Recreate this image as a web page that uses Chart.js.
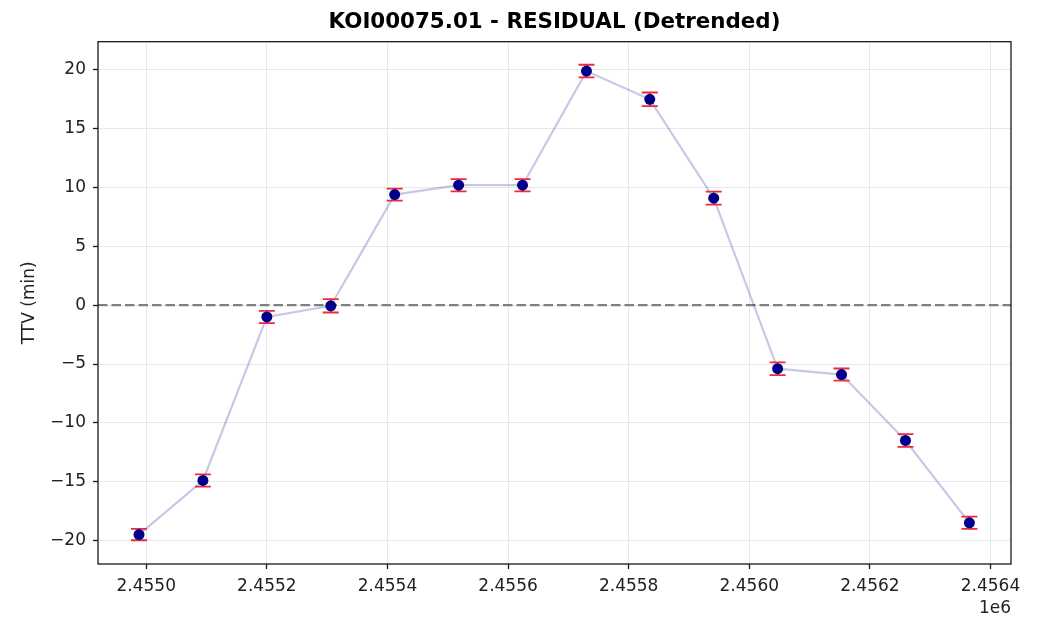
<!DOCTYPE html>
<html>
<head>
<meta charset="utf-8">
<title>KOI00075.01 - RESIDUAL (Detrended)</title>
<script src="https://cdn.jsdelivr.net/npm/chart.js@4.4.1/dist/chart.umd.min.js"></script>
<style>
  html, body { margin: 0; padding: 0; background: #ffffff; }
  canvas { display: block; }
</style>
</head>
<body>
<canvas id="ttv" width="1039" height="617"></canvas>
<script>
// Transit epochs (BJD) and detrended timing residuals in minutes
const epochs = [2454988, 2455094, 2455200, 2455306, 2455412, 2455518, 2455624,
                2455730, 2455835, 2455941, 2456047, 2456153, 2456259, 2456365];
const ttvMinutes = [-19.5, -14.9, -1.0, -0.05, 9.4, 10.2, 10.2,
                    19.9, 17.5, 9.1, -5.4, -5.9, -11.5, -18.5];
const ttvErrors = [0.48, 0.52, 0.52, 0.57, 0.51, 0.52, 0.52,
                   0.54, 0.58, 0.55, 0.54, 0.52, 0.54, 0.52];

// Axis ticks
const xTickValues = [2455000, 2455200, 2455400, 2455600, 2455800, 2456000, 2456200, 2456400];
const xTickLabels = ['2.4550', '2.4552', '2.4554', '2.4556', '2.4558', '2.4560', '2.4562', '2.4564'];
const yTickValues = [-20, -15, -10, -5, 0, 5, 10, 15, 20];
const yTickLabels = ['\u221220', '\u221215', '\u221210', '\u22125', '0', '5', '10', '15', '20'];

const points = epochs.map((x, i) => ({ x: x, y: ttvMinutes[i] }));

Chart.defaults.font.family = "'DejaVu Sans', 'Liberation Sans', sans-serif";
Chart.defaults.color = '#222222';

// Dashed zero reference line, error bars, and the axes frame
const ttvDecorations = {
  id: 'ttvDecorations',
  beforeDatasetsDraw(chart) {
    const { ctx, chartArea, scales } = chart;
    const y0 = scales.y.getPixelForValue(0);
    ctx.save();
    ctx.beginPath();
    ctx.rect(chartArea.left, chartArea.top, chartArea.right - chartArea.left, chartArea.bottom - chartArea.top);
    ctx.clip();
    ctx.strokeStyle = '#7f7f7f';
    ctx.lineWidth = 2.2;
    ctx.setLineDash([9.5, 4]);
    ctx.beginPath();
    ctx.moveTo(chartArea.left, y0);
    ctx.lineTo(chartArea.right, y0);
    ctx.stroke();
    ctx.restore();
  },
  afterDatasetDraw(chart, args) {
    if (chart.data.datasets[args.index].label !== 'trend') return;
    const { ctx, scales } = chart;
    const cap = 8;
    ctx.save();
    ctx.strokeStyle = '#ee2a35';
    ctx.lineWidth = 1.8;
    epochs.forEach((x, i) => {
      const px = scales.x.getPixelForValue(x);
      const top = scales.y.getPixelForValue(ttvMinutes[i] + ttvErrors[i]);
      const bot = scales.y.getPixelForValue(ttvMinutes[i] - ttvErrors[i]);
      ctx.beginPath();
      ctx.moveTo(px, top); ctx.lineTo(px, bot);
      ctx.moveTo(px - cap, top); ctx.lineTo(px + cap, top);
      ctx.moveTo(px - cap, bot); ctx.lineTo(px + cap, bot);
      ctx.stroke();
    });
    ctx.restore();
  },
  afterDraw(chart) {
    const { ctx, chartArea } = chart;
    ctx.save();
    ctx.strokeStyle = '#1a1a1a';
    ctx.lineWidth = 1.3;
    ctx.strokeRect(chartArea.left, chartArea.top, chartArea.right - chartArea.left, chartArea.bottom - chartArea.top);
    ctx.restore();
  }
};

new Chart(document.getElementById('ttv'), {
  type: 'scatter',
  data: {
    datasets: [
      {
        label: 'trend',
        data: points,
        showLine: true,
        borderColor: 'rgba(0, 0, 139, 0.22)',
        borderWidth: 2.2,
        pointRadius: 0,
        fill: false,
        order: 2
      },
      {
        label: 'TTV',
        data: points,
        showLine: false,
        backgroundColor: '#00008b',
        borderColor: '#00008b',
        borderWidth: 0,
        pointRadius: 5.5,
        order: 1
      }
    ]
  },
  options: {
    responsive: false,
    animation: false,
    devicePixelRatio: 1,
    layout: { padding: { left: 0, right: 28, top: 0, bottom: 0 } },
    plugins: {
      legend: { display: false },
      tooltip: { enabled: false },
      title: {
        display: true,
        fullSize: false,
        text: 'KOI00075.01 - RESIDUAL (Detrended)',
        color: '#000000',
        font: { size: 21.4, weight: 'bold' },
        padding: { top: 10, bottom: 6 }
      }
    },
    scales: {
      x: {
        type: 'linear',
        min: 2454920,
        max: 2456434,
        afterBuildTicks(scale) { scale.ticks = xTickValues.map(v => ({ value: v })); },
        afterFit(scale) { scale.height = 53; },
        ticks: {
          font: { size: 17 },
          color: '#222222',
          padding: 7,
          maxRotation: 0,
          autoSkip: false,
          callback(value, index) { return xTickLabels[index]; }
        },
        grid: { color: '#e8e8ec', lineWidth: 1, tickColor: '#1a1a1a', tickLength: 5, tickWidth: 1.3 },
        border: { display: false },
        title: {
          display: true,
          text: '1e6',
          align: 'end',
          color: '#222222',
          font: { size: 17 },
          padding: { top: 0, bottom: -2 }
        }
      },
      y: {
        type: 'linear',
        min: -22.0,
        max: 22.4,
        afterBuildTicks(scale) { scale.ticks = yTickValues.map(v => ({ value: v })); },
        afterFit(scale) { scale.width = 98; },
        ticks: {
          font: { size: 17 },
          color: '#222222',
          padding: 7,
          autoSkip: false,
          callback(value, index) { return yTickLabels[index]; }
        },
        grid: { color: '#e8e8ec', lineWidth: 1, tickColor: '#1a1a1a', tickLength: 5, tickWidth: 1.3 },
        border: { display: false },
        title: {
          display: true,
          text: 'TTV (min)',
          color: '#222222',
          font: { size: 17 },
          padding: { top: 19, bottom: 0 }
        }
      }
    }
  },
  plugins: [ttvDecorations]
});
</script>
</body>
</html>
